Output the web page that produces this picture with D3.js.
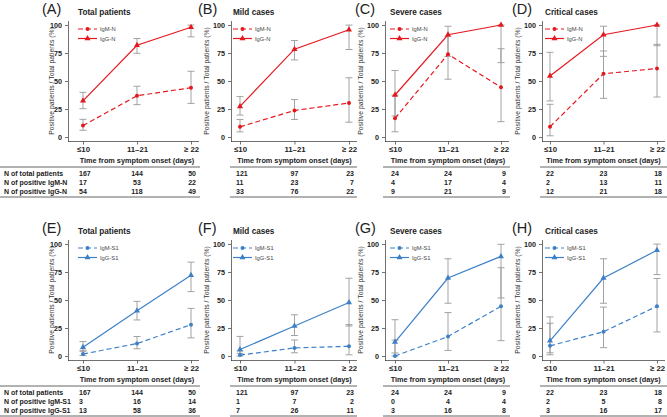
<!DOCTYPE html>
<html>
<head>
<meta charset="utf-8">
<script src="https://cdn.jsdelivr.net/npm/d3@7"></script>
<style>
  body { margin: 0; background: #fff; }
  svg { display: block; font-family: "Liberation Sans", Arial, sans-serif; }
</style>
</head>
<body>
<svg id="chart" width="667" height="417"></svg>
<script>
/* categories and labels */
const periods = ['≤10', '11–21', '≥ 22'];
const yTicks = [0, 25, 50, 75, 100];
const panelIds = ['A', 'B', 'C', 'D', 'E', 'F', 'G', 'H'];
const panelTitles = ['Total patients', 'Mild cases', 'Severe cases', 'Critical cases'];

/* table counts (same totals for both rows) */
const totals = [[167, 144, 50], [121, 97, 23], [24, 24, 9], [22, 23, 18]];
const posIgMN = [[17, 53, 22], [11, 23, 7], [4, 17, 4], [2, 13, 11]];
const posIgGN = [[54, 118, 49], [33, 76, 22], [9, 21, 9], [12, 21, 18]];
const posIgMS1 = [[3, 16, 14], [1, 7, 2], [0, 4, 4], [2, 5, 8]];
const posIgGS1 = [[13, 58, 36], [7, 26, 11], [3, 16, 8], [3, 16, 17]];

/* plotted percentages and 95% CI */
const pctIgMN = [[10.2, 36.8, 44.0], [9.1, 23.7, 30.4], [16.7, 73.9, 44.4], [9.1, 56.5, 61.1]];
const lowIgMN = [[6.0, 28.9, 30.0], [4.6, 15.7, 13.2], [4.7, 51.6, 13.7], [1.1, 34.5, 35.7]];
const highIgMN = [[15.8, 45.3, 58.7], [15.7, 33.4, 52.9], [37.4, 89.8, 78.8], [29.2, 76.8, 82.7]];
const pctIgGN = [[32.3, 81.9, 98.0], [27.3, 78.4, 95.7], [37.5, 91.3, 100], [54.5, 91.3, 100]];
const lowIgGN = [[25.3, 74.7, 89.4], [19.6, 68.8, 78.1], [18.8, 72.0, 66.4], [32.2, 72.0, 81.5]];
const highIgGN = [[39.9, 87.9, 99.9], [36.1, 86.1, 99.9], [59.4, 98.9, 100], [75.6, 98.9, 100]];

const pctIgMS1 = [[1.8, 11.1, 28.0], [0.8, 7.2, 8.7], [0, 17.4, 44.4], [9.1, 21.7, 44.4]];
const lowIgMS1 = [[0.4, 6.5, 16.2], [0.0, 2.9, 1.1], [0, 5.0, 13.7], [1.1, 7.5, 21.5]];
const highIgMS1 = [[5.2, 17.4, 42.5], [4.5, 14.3, 28.0], [14.2, 38.8, 78.8], [29.2, 43.7, 69.2]];
const pctIgGS1 = [[7.8, 40.3, 72.0], [5.8, 26.8, 47.8], [12.5, 69.6, 88.9], [13.6, 69.6, 94.4]];
const lowIgGS1 = [[4.2, 32.2, 57.5], [2.4, 18.3, 26.8], [2.7, 47.1, 51.8], [2.9, 47.1, 72.7]];
const highIgGS1 = [[12.9, 48.8, 83.8], [17.5, 36.8, 69.4], [32.4, 86.8, 99.7], [34.9, 86.8, 99.9]];

/* layout of the four columns */
const cols = [
  { axis: 68, p0: 83, p2: 191, lab: 42, title: 78, ylab: 54, tl: 0, tr: 200 },
  { axis: 231, p0: 240, p2: 349, lab: 198, title: 233, ylab: 209, tl: 230, tr: 357 },
  { axis: 385, p0: 395, p2: 501, lab: 355, title: 390, ylab: 363, tl: 383, tr: 510 },
  { axis: 542, p0: 550, p2: 657, lab: 512, title: 545, ylab: 520, tl: 540, tr: 667 },
];
const rowTop = [0, 219];
const rows = [
  { color: '#e4191f', m: 'IgM-N', g: 'IgG-N', pm: pctIgMN, lm: lowIgMN, hm: highIgMN, pg: pctIgGN, lg: lowIgGN, hg: highIgGN, cm: posIgMN, cg: posIgGN },
  { color: '#3d80c8', m: 'IgM-S1', g: 'IgG-S1', pm: pctIgMS1, lm: lowIgMS1, hm: highIgMS1, pg: pctIgGS1, lg: lowIgGS1, hg: highIgGS1, cm: posIgMS1, cg: posIgGS1 },
];

const svg = d3.select('#chart');
const textCol = '#222';
const tri = d3.symbol().type(d3.symbolTriangle).size(16);

rows.forEach((row, r) => {
  const top = rowTop[r];
  const y = d3.scaleLinear().domain([-4, 104]).range([top + 141.5, top + 20.5]);

  cols.forEach((c, k) => {
    const g = svg.append('g');
    const x = d3.scalePoint().domain(periods).range([c.p0, c.p2]);

    /* panel letter and title */
    g.append('text').attr('x', c.lab).attr('y', top + 14)
      .attr('font-size', 14.5).attr('fill', textCol)
      .text(`(${panelIds[r * 4 + k]})`);
    g.append('text').attr('x', c.title).attr('y', top + 15)
      .attr('font-size', 8.2).attr('font-weight', 700).attr('fill', textCol)
      .text(panelTitles[k]);

    /* y axis */
    const ya = g.append('g').attr('transform', `translate(${c.axis},0)`)
      .call(d3.axisLeft(y).tickValues(yTicks).tickSize(3).tickSizeOuter(0).tickPadding(3));
    ya.select('.domain').attr('stroke', '#333').attr('stroke-width', 0.7);
    ya.selectAll('.tick line').attr('stroke', '#333').attr('stroke-width', 0.7);
    ya.selectAll('.tick text').attr('font-size', 7.2).attr('font-weight', 700)
      .attr('fill', textCol).attr('font-family', null);

    /* x axis */
    const xa = g.append('g').attr('transform', `translate(0,${y(-4)})`)
      .call(d3.axisBottom(x).tickSize(3).tickPadding(2));
    xa.select('.domain').remove();
    xa.append('line').attr('x1', c.axis).attr('x2', c.p2 + 8)
      .attr('stroke', '#333').attr('stroke-width', 0.7);
    xa.selectAll('.tick line').attr('stroke', '#333').attr('stroke-width', 0.7);
    xa.selectAll('.tick text').attr('font-size', 7.8).attr('font-weight', 700)
      .attr('fill', textCol).attr('font-family', null);

    g.append('text').attr('x', x(periods[1])).attr('y', top + 163)
      .attr('text-anchor', 'middle').attr('font-size', 7.3).attr('font-weight', 700)
      .attr('fill', textCol).text('Time from symptom onset (days)');

    g.append('text')
      .attr('transform', `translate(${c.ylab},${top + 81}) rotate(-90)`)
      .attr('text-anchor', 'middle').attr('font-size', 6.8).attr('fill', '#333')
      .text('Positive patients / Total patients (%)');

    /* series */
    const series = [
      { name: row.m, v: row.pm[k], lo: row.lm[k], hi: row.hm[k], dash: '5,3', shape: 'circle' },
      { name: row.g, v: row.pg[k], lo: row.lg[k], hi: row.hg[k], dash: null, shape: 'tri' },
    ];

    series.forEach(s => {
      const eb = g.append('g').attr('stroke', '#999').attr('stroke-width', 0.9);
      periods.forEach((p, i) => {
        eb.append('line').attr('x1', x(p)).attr('x2', x(p)).attr('y1', y(s.lo[i])).attr('y2', y(s.hi[i]));
        [s.lo[i], s.hi[i]].forEach(v => {
          eb.append('line').attr('x1', x(p) - 3.5).attr('x2', x(p) + 3.5).attr('y1', y(v)).attr('y2', y(v));
        });
      });
    });

    series.forEach(s => {
      g.append('path')
        .datum(periods.map((p, i) => [x(p), y(s.v[i])]))
        .attr('d', d3.line())
        .attr('fill', 'none').attr('stroke', row.color).attr('stroke-width', 1.2)
        .attr('stroke-dasharray', s.dash);
      periods.forEach((p, i) => {
        if (s.shape === 'circle') {
          g.append('circle').attr('cx', x(p)).attr('cy', y(s.v[i])).attr('r', 2).attr('fill', row.color);
        } else {
          g.append('path').attr('d', tri).attr('transform', `translate(${x(p)},${y(s.v[i])})`).attr('fill', row.color);
        }
      });
    });

    /* legend */
    series.forEach((s, j) => {
      const ly = top + 29 + j * 9.5;
      g.append('line').attr('x1', c.title).attr('x2', c.title + 19).attr('y1', ly).attr('y2', ly)
        .attr('stroke', row.color).attr('stroke-width', 1.2).attr('stroke-dasharray', s.dash);
      if (s.shape === 'circle') {
        g.append('circle').attr('cx', c.title + 9.5).attr('cy', ly).attr('r', 2).attr('fill', row.color);
      } else {
        g.append('path').attr('d', tri).attr('transform', `translate(${c.title + 9.5},${ly})`).attr('fill', row.color);
      }
      g.append('text').attr('x', c.title + 22).attr('y', ly + 2).attr('font-size', 5.8)
        .attr('fill', '#444').text(s.name);
    });

    /* table */
    const tableRows = [totals[k], row.cm[k], row.cg[k]];
    const rowLabels = ['N of total patients', `N of positive ${row.m}`, `N of positive ${row.g}`];
    [top + 167, top + 197] .forEach(ly => {
      g.append('line').attr('x1', c.tl).attr('x2', c.tr).attr('y1', ly).attr('y2', ly)
        .attr('stroke', '#666').attr('stroke-width', 1);
    });
    tableRows.forEach((vals, j) => {
      const ty = top + 176 + j * 9.2;
      if (k === 0) {
        g.append('text').attr('x', 4).attr('y', ty).attr('font-size', 7).attr('font-weight', 700)
          .attr('fill', textCol).text(rowLabels[j]);
      }
      vals.forEach((v, i) => {
        const anchor = i === 0 ? 'start' : i === 1 ? 'middle' : 'end';
        const tx = i === 0 ? c.p0 - 4 : i === 1 ? x(periods[1]) : c.p2 + 5;
        g.append('text').attr('x', tx).attr('y', ty).attr('text-anchor', anchor)
          .attr('font-size', 7).attr('font-weight', 700).attr('fill', textCol).text(v);
      });
    });
  });
});
</script>
</body>
</html>
